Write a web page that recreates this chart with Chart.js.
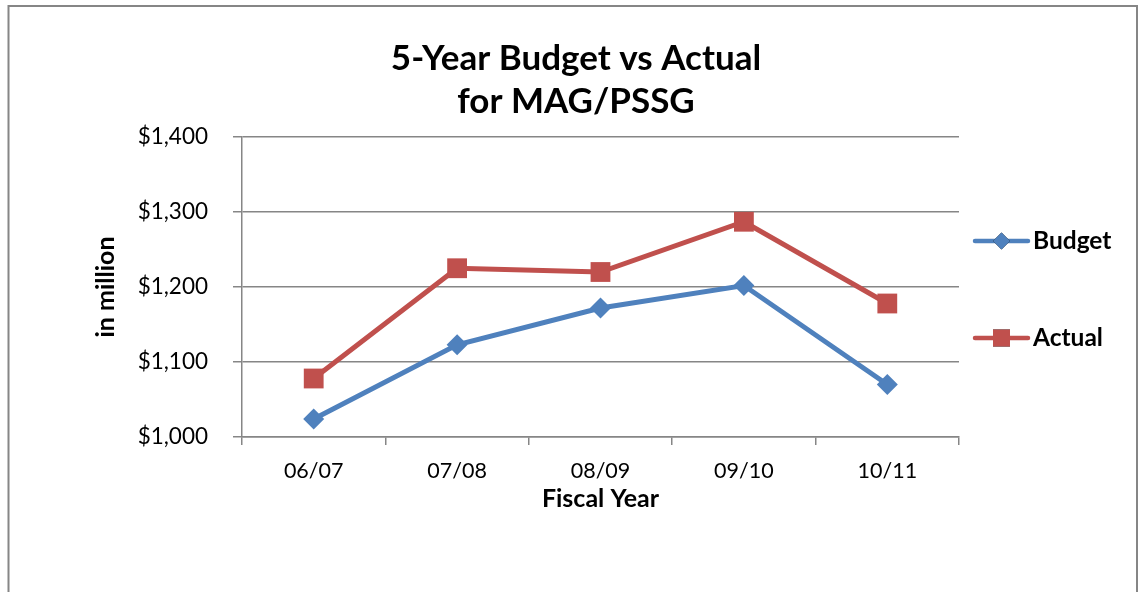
<!DOCTYPE html>
<html>
<head>
<meta charset="utf-8">
<script src="https://cdn.jsdelivr.net/npm/chart.js@4"></script>
<style>
  html, body { margin: 0; padding: 0; background: #fff; }
  #wrap { width: 1141px; height: 592px; }
</style>
</head>
<body>
<div id="wrap"><canvas id="lineChart" width="1141" height="592"></canvas></div>
<script>
const years = ['06/07', '07/08', '08/09', '09/10', '10/11'];
const budget = [1024, 1123, 1172, 1202, 1070];
const actual = [1078, 1225, 1220, 1287, 1178];
const yTicks = [1000, 1100, 1200, 1300, 1400];
const titleLines = ['5-Year Budget vs Actual', 'for MAG/PSSG'];

const FONT = 'Lato, "Open Sans", sans-serif';
const GRID = '#868686';

// outer frame (no bottom edge, it runs off the picture)
const framePlugin = {
    id: 'frame',
    beforeDraw(chart) {
        const ctx = chart.ctx;
        ctx.save();
        ctx.strokeStyle = GRID;
        ctx.lineWidth = 2;
        ctx.beginPath();
        ctx.moveTo(8.5, 600);
        ctx.lineTo(8.5, 6);
        ctx.lineTo(1137, 6);
        ctx.lineTo(1137, 600);
        ctx.stroke();
        ctx.restore();
    }
};

// title centred on the whole picture, not the plot
const titlePlugin = {
    id: 'bigTitle',
    afterDraw(chart) {
        const ctx = chart.ctx;
        ctx.save();
        ctx.fillStyle = '#000';
        ctx.font = 'bold 35px ' + FONT;
        ctx.textAlign = 'center';
        ctx.textBaseline = 'alphabetic';
        ctx.fillText(titleLines[0], 576, 70);
        ctx.fillText(titleLines[1], 576, 113);
        ctx.restore();
    }
};

// legend drawn at the right, line + marker like the original
const legendPlugin = {
    id: 'sideLegend',
    afterDraw(chart) {
        const ctx = chart.ctx;
        const rows = [241, 338];
        const sizes = [8.5, 12];
        ctx.save();
        chart.data.datasets.forEach(function (ds, i) {
            const y = rows[i];
            ctx.strokeStyle = ds.borderColor;
            ctx.lineWidth = 4.5;
            ctx.lineCap = 'round';
            ctx.beginPath();
            ctx.moveTo(975, y);
            ctx.lineTo(1028, y);
            ctx.stroke();
            Chart.helpers.drawPoint(ctx, {
                pointStyle: ds.pointStyle,
                radius: sizes[i],
                borderWidth: 0
            }, 1001.5, y);
            ctx.fillStyle = ds.pointBackgroundColor;
            ctx.fill();
            ctx.fillStyle = '#000';
            ctx.font = 'bold 24.5px ' + FONT;
            ctx.textBaseline = 'middle';
            ctx.fillText(ds.label, 1033, y);
        });
        ctx.restore();
    }
};

const ctx = document.getElementById('lineChart').getContext('2d');
const myChart = new Chart(ctx, {
    type: 'line',
    data: {
        labels: years,
        datasets: [{
            label: 'Budget',
            data: budget,
            borderColor: '#4F81BD',
            backgroundColor: '#4F81BD',
            pointBackgroundColor: '#4F81BD',
            pointBorderColor: '#4F81BD',
            borderWidth: 5,
            pointStyle: 'rectRot',
            pointRadius: 10.5,
            pointBorderWidth: 0,
            tension: 0
        }, {
            label: 'Actual',
            data: actual,
            borderColor: '#C0504D',
            backgroundColor: '#C0504D',
            pointBackgroundColor: '#C0504D',
            pointBorderColor: '#C0504D',
            borderWidth: 5,
            pointStyle: 'rect',
            pointRadius: 14,
            pointBorderWidth: 0,
            tension: 0
        }]
    },
    options: {
        responsive: false,
        animation: false,
        layout: {
            padding: { left: 91, right: 182, top: 137, bottom: 70 }
        },
        plugins: {
            legend: { display: false },
            tooltip: { enabled: false },
            title: { display: false }
        },
        scales: {
            x: {
                offset: true,
                grid: {
                    offset: true,
                    drawOnChartArea: false,
                    drawTicks: true,
                    tickLength: 8,
                    color: GRID,
                    lineWidth: 1.5
                },
                border: { color: GRID, width: 1.5 },
                ticks: {
                    color: '#000',
                    font: { family: FONT, size: 21.5 },
                    padding: 13,
                    maxRotation: 0
                },
                title: {
                    display: true,
                    text: 'Fiscal Year',
                    color: '#000',
                    font: { family: FONT, size: 25, weight: 'bold' },
                    padding: { top: 0, bottom: 8 }
                },
                afterFit(scale) { scale.height = 85; }
            },
            y: {
                min: 1000,
                max: 1400,
                afterBuildTicks(scale) {
                    scale.ticks = yTicks.map(function (v) { return { value: v }; });
                },
                grid: {
                    color: GRID,
                    lineWidth: 1.5,
                    drawTicks: true,
                    tickLength: 9
                },
                border: { color: GRID, width: 1.5 },
                ticks: {
                    color: '#000',
                    font: { family: FONT, size: 22.5 },
                    padding: 25,
                    callback: function (v) { return '$' + v.toLocaleString('en-US'); }
                },
                title: {
                    display: true,
                    text: 'in million',
                    color: '#000',
                    font: { family: FONT, size: 25, weight: 'bold' },
                    padding: { top: 0, bottom: 0 }
                },
                afterFit(scale) { scale.width = 151; }
            }
        }
    },
    plugins: [framePlugin, titlePlugin, legendPlugin]
});
</script>
</body>
</html>
